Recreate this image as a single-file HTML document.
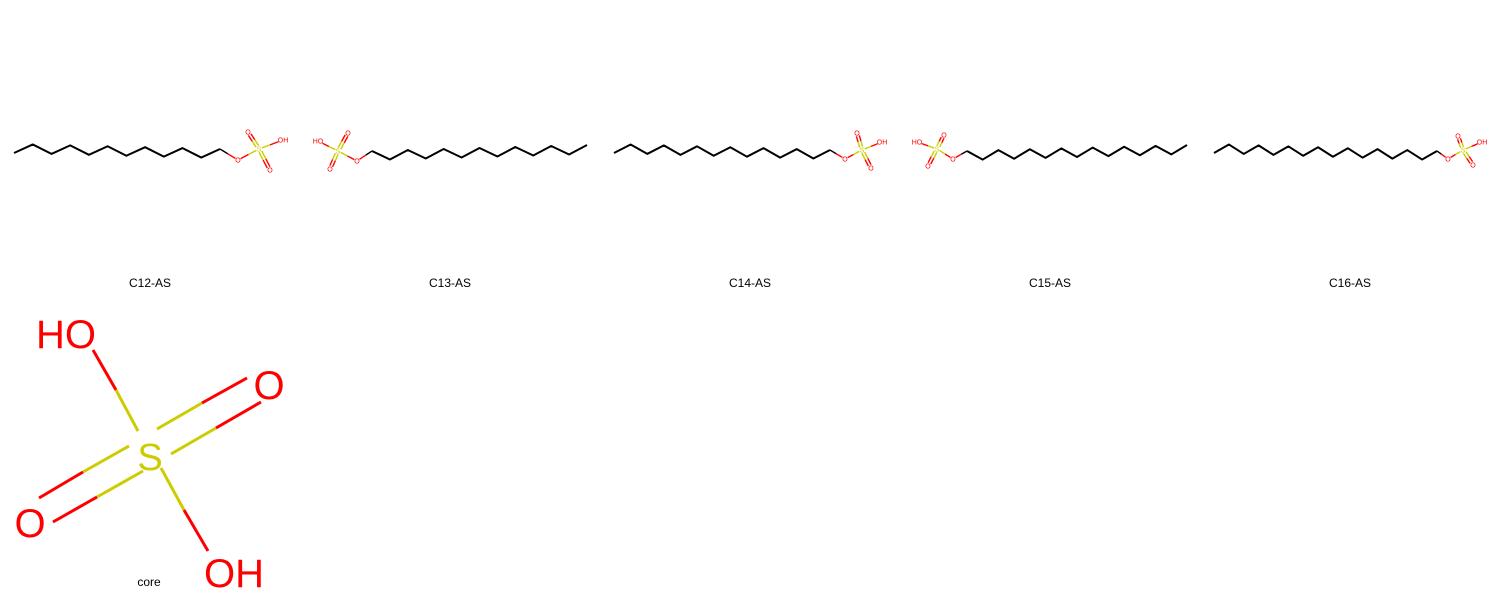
<!DOCTYPE html>
<html><head><meta charset="utf-8"><style>
html,body{margin:0;padding:0;background:#fff;}
svg{display:block;font-family:"Liberation Sans",sans-serif;}
</style></head><body>
<svg id="s" width="1500" height="600" viewBox="0 0 1500 600">
<rect width="1500" height="600" fill="#fff"/>
<g id="mols"></g>
<g stroke-width="3" fill="none">
<line x1="93" y1="350" x2="116" y2="390" stroke="#f00"/><line x1="116" y1="390" x2="138" y2="431" stroke="#cc0"/>
<line x1="161" y1="468" x2="184" y2="510" stroke="#cc0"/><line x1="184" y1="510" x2="208" y2="551" stroke="#f00"/>
<line x1="157" y1="429" x2="202" y2="403" stroke="#cc0"/><line x1="202" y1="403" x2="247" y2="378" stroke="#f00"/>
<line x1="171" y1="454" x2="216" y2="428" stroke="#cc0"/><line x1="216" y1="428" x2="261" y2="402" stroke="#f00"/>
<line x1="129" y1="446" x2="83" y2="472" stroke="#cc0"/><line x1="83" y1="472" x2="39" y2="498" stroke="#f00"/>
<line x1="143" y1="471" x2="97" y2="497" stroke="#cc0"/><line x1="97" y1="497" x2="53" y2="522" stroke="#f00"/>
</g>
<text x="36" y="348" font-size="40" fill="#f00">HO</text>
<text x="150" y="470" font-size="38" fill="#cc0" text-anchor="middle">S</text>
<text x="269" y="399" font-size="40" fill="#f00" text-anchor="middle">O</text>
<text x="30" y="537" font-size="40" fill="#f00" text-anchor="middle">O</text>
<text x="204" y="587" font-size="40" fill="#f00">OH</text>
<text x="149" y="586" font-size="12" fill="#000" text-anchor="middle">core</text>
</svg>
<script>
const names=["C12-AS","C13-AS","C14-AS","C15-AS","C16-AS"];
const carbons=[12,13,14,15,16];
const firstC=[[14,153],[372,151],[614,153],[967,151],[1214,153]];
const lastC=[[220,149],[587,145],[830,150],[1187,145],[1437,151]];
const oPos=[[238,160],[357,161],[845,159],[953,159],[1448,159]];
const sPos=[[259,149],[338,151],[862,150],[937,149],[1463,150]];
const oTop=[[248,132],[348,133],[857,133],[944,135],[1458,136]];
const oBot=[[270,170],[330,169],[871,168],[928,166],[1473,165]];
const ohPos=[[283,140],[318,141],[882,142],[917,142],[1482,142]];
const ns="http://www.w3.org/2000/svg";
const G=document.getElementById('mols');
function mk(t,a,p){const e=document.createElementNS(ns,t);for(const k in a)e.setAttribute(k,a[k]);p.appendChild(e);return e;}
function shrink(a,b,da,db){const dx=b[0]-a[0],dy=b[1]-a[1],L=Math.hypot(dx,dy);return [[a[0]+dx*da/L,a[1]+dy*da/L],[b[0]-dx*db/L,b[1]-dy*db/L]];}
function bond(g,a,b,ca,cb,da,db,off){
  let [p,q]=shrink(a,b,da,db);
  if(off){const dx=q[0]-p[0],dy=q[1]-p[1],L=Math.hypot(dx,dy);const nx=-dy/L*off,ny=dx/L*off;p=[p[0]+nx,p[1]+ny];q=[q[0]+nx,q[1]+ny];}
  const m=[(p[0]+q[0])/2,(p[1]+q[1])/2];
  const l1=mk('line',{x1:p[0],y1:p[1],x2:m[0],y2:m[1],stroke:ca,'stroke-width':1.4},g);
  
  
  const l2=mk('line',{x1:m[0],y1:m[1],x2:q[0],y2:q[1],stroke:cb,'stroke-width':1.4},g);
  
  
}
function label(g,p,t,c,anchor){const e=mk('text',{x:p[0],y:p[1]+2.5,'font-size':7,fill:c,'text-anchor':anchor||'middle'},g);e.textContent=t;
  
  }
names.forEach((nm,k)=>{
  const g=mk('g',{},G);
  
  
  const n=carbons[k],a=firstC[k],b=lastC[k];
  const pts=[];
  const amp=4.5;
  const s0=(k%2===0)?1:-1;
  const sl=s0*((n-1)%2===0?1:-1);
  const m0=a[1]-s0*amp, m1=b[1]-sl*amp;
  for(let i=0;i<n;i++){const t=i/(n-1);const sg=s0*(i%2===0?1:-1);
    pts.push([a[0]+(b[0]-a[0])*t,m0+(m1-m0)*t+sg*amp]);}
  const pl=mk('polyline',{points:pts.map(p=>p.join(',')).join(' '),fill:'none',stroke:'#000','stroke-width':2,'stroke-linejoin':'round'},g);
  
  
  const o=oPos[k],s=sPos[k];
  const end=(k%2===0)?pts[n-1]:pts[0];
  bond(g,end,o,'#000','#f00',0,3);
  bond(g,o,s,'#f00','#cc0',3,3);
  bond(g,s,oTop[k],'#cc0','#f00',3,3,1.5);
  bond(g,s,oTop[k],'#cc0','#f00',3,3,-1.5);
  bond(g,s,oBot[k],'#cc0','#f00',3,3,1.5);
  bond(g,s,oBot[k],'#cc0','#f00',3,3,-1.5);
  bond(g,s,ohPos[k],'#cc0','#f00',3,5);
  label(g,o,'O','#f00');label(g,s,'S','#cc0');label(g,oTop[k],'O','#f00');label(g,oBot[k],'O','#f00');
  label(g,ohPos[k],k%2===0?'OH':'HO','#f00');
  const c=mk('text',{x:150+300*k,y:287,'font-size':12,fill:'#000','text-anchor':'middle'},g);
  c.textContent=nm;
  
  
});
</script>
</body></html>
